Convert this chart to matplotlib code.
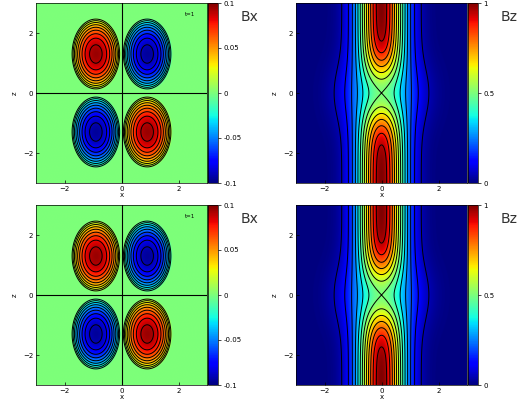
import numpy as np
import matplotlib
matplotlib.use("Agg")
import matplotlib.pyplot as plt

# field model parameters
bx_amp = [0.095]
bx_center = [0.9, 1.3]
bx_radius = [0.86, 1.2]
bz_core_width = [0.65]
bz_mid_width = [1.2]
bz_dip = [1.3]
bx_levels = [-0.09, -0.08, -0.07, -0.06, -0.05, -0.04, -0.03, -0.02, -0.01,
             0.01, 0.02, 0.03, 0.04, 0.05, 0.06, 0.07, 0.08, 0.09]
bz_levels = [0.05, 0.125, 0.2, 0.275, 0.35, 0.425, 0.5, 0.575, 0.65, 0.725,
             0.8, 0.875, 0.95]
ticks_xy = [-2, 0, 2]
bx_cticks = [-0.1, -0.05, 0, 0.05, 0.1]
bx_ctlabels = ["-0.1", "-0.05", "0", "0.05", "0.1"]
bz_cticks = [0, 0.5, 1]
bz_ctlabels = ["0", "0.5", "1"]

x = np.linspace(-3, 3, 401)
X, Z = np.meshgrid(x, x)
R2 = ((np.abs(X) - bx_center[0]) / bx_radius[0])**2 + ((np.abs(Z) - bx_center[1]) / bx_radius[1])**2
Bx = -np.sign(X) * np.sign(Z) * bx_amp[0] * np.clip(1 - R2, 0, None)**0.8
A = np.exp(-Z**2 / bz_dip[0])
Bz = np.exp(-X**2 / bz_core_width[0]) * (1 - A) + 0.5 * A * np.exp(-X**2 / bz_mid_width[0])

fig = plt.figure(figsize=(5.2, 4.0), dpi=100)
W, H = 520, 400
def ax_at(l, t, w, h):
    return fig.add_axes([l / W, 1 - (t + h) / H, w / W, h / H])

for row, top in enumerate([3, 205]):
    for col, (data, vmin, vmax, lev, ct, ctl, name) in enumerate([
            (Bx, -0.1, 0.1, bx_levels, bx_cticks, bx_ctlabels, "Bx"),
            (Bz, 0, 1, bz_levels, bz_cticks, bz_ctlabels, "Bz")]):
        left = 36 if col == 0 else 296
        ax = ax_at(left, top, 171, 180)
        im = ax.imshow(data, extent=[-3, 3, -3, 3], origin="lower", cmap="jet",
                       vmin=vmin, vmax=vmax, aspect="auto", interpolation="bilinear")
        ax.contour(X, Z, data, levels=lev, colors="black", linewidths=0.7,
                   linestyles="solid")
        if col == 0:
            ax.axhline(0, color="black", lw=0.8)
            ax.axvline(0, color="black", lw=0.8)
            ax.text(2.6, 2.6, "t=1", fontsize=4, ha="right", va="center")
        ax.set_xlim(-3, 3); ax.set_ylim(-3, 3)
        ax.set_xticks(ticks_xy); ax.set_yticks(ticks_xy)
        ax.tick_params(labelsize=5, direction="in", length=2, width=0.5, pad=2)
        ax.set_xlabel("x", fontsize=5, labelpad=0)
        ax.set_ylabel("z", fontsize=5, labelpad=4)
        for s in ax.spines.values():
            s.set_linewidth(0.5)
        cax = ax_at(left + 172, top, 10, 180)
        cb = fig.colorbar(im, cax=cax, ticks=ct)
        cb.ax.set_yticklabels(ctl)
        cb.ax.tick_params(labelsize=5, length=2, width=0.5, pad=2)
        cb.outline.set_linewidth(0.5)
        fig.text((left + 205) / W, 1 - (top + 14) / H, name, fontsize=10,
                 ha="left", va="center", color="#333333")

fig.savefig("out.png", dpi=100)
